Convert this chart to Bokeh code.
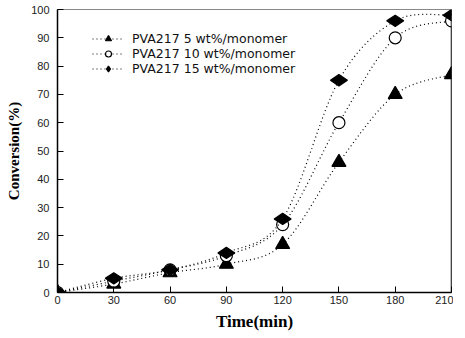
import numpy as np
from bokeh.plotting import figure
from bokeh.models import Legend, LegendItem, Span, FixedTicker, Range1d
from bokeh.embed import file_html
from bokeh.resources import INLINE

time_min = [0, 30, 60, 90, 120, 150, 180, 210]
pva5 = [0, 3, 7, 10, 17, 46, 70, 77]
pva10 = [0, 4, 8, 13, 24, 60, 90, 96]
pva15 = [0, 5, 8, 14, 26, 75, 96, 98]
labels = ["PVA217 5 wt%/monomer", "PVA217 10 wt%/monomer", "PVA217 15 wt%/monomer"]
x_ticks = [0, 30, 60, 90, 120, 150, 180, 210]
y_ticks = [0, 10, 20, 30, 40, 50, 60, 70, 80, 90, 100]

p = figure(frame_width=394, frame_height=283, output_backend="svg", toolbar_location=None,
           x_range=Range1d(0, 210), y_range=Range1d(0, 100),
           min_border_left=57, min_border_right=2, min_border_top=9, min_border_bottom=30)
p.grid.visible = False
p.outline_line_color = "#888888"
p.background_fill_color = "white"
p.border_fill_color = "white"

for ax in (p.xaxis[0], p.yaxis[0]):
    ax.axis_line_color = "black"
    ax.axis_line_width = 1.5
    ax.major_tick_in = 6
    ax.major_tick_out = 0
    ax.minor_tick_line_color = None
    ax.major_label_text_font = "Liberation Sans"
    ax.major_label_text_font_size = "11px"
    ax.major_label_text_color = "#222222"
    ax.axis_label_text_font = "Liberation Serif"
    ax.axis_label_text_font_style = "bold"
    ax.axis_label_text_color = "black"

p.xaxis.ticker = FixedTicker(ticks=x_ticks)
p.yaxis.ticker = FixedTicker(ticks=y_ticks)
p.xaxis.axis_label = "Time(min)"
p.yaxis.axis_label = "Conversion(%)"
p.xaxis.axis_label_text_font_size = "17px"
p.yaxis.axis_label_text_font_size = "15px"
p.xaxis.major_label_standoff = 3
p.yaxis.major_label_standoff = 8
p.xaxis.axis_label_standoff = 5
p.yaxis.axis_label_standoff = 6

p.add_layout(Span(location=210, dimension="height", line_color="black", line_width=1.5))


def smooth(xs, ys):
    x = np.array(xs, float)
    y = np.array(ys, float)
    xp = np.concatenate([[x[0]], x, [x[-1]]])
    yp = np.concatenate([[y[0]], y, [y[-1]]])
    x0, y0, x1, y1, cx0, cy0, cx1, cy1 = [], [], [], [], [], [], [], []
    for i in range(len(x) - 1):
        j = i + 1
        x0.append(x[i]); y0.append(y[i]); x1.append(x[i + 1]); y1.append(y[i + 1])
        cx0.append(x[i] + (xp[j + 1] - xp[j - 1]) / 6)
        cy0.append(y[i] + (yp[j + 1] - yp[j - 1]) / 6)
        cx1.append(x[i + 1] - (xp[j + 2] - xp[j]) / 6)
        cy1.append(y[i + 1] - (yp[j + 2] - yp[j]) / 6)
    return dict(x0=x0, y0=y0, x1=x1, y1=y1, cx0=cx0, cy0=cy0, cx1=cx1, cy1=cy1)


series = [(pva5, "triangle", 14, "black", 0.0),
          (pva10, "circle", 12, "white", 0.0),
          (pva15, "diamond", 17, "black", np.pi / 2)]
leg_items = []
for (ys, marker, size, fill, ang), lab in zip(series, labels):
    p.bezier(line_color="black", line_width=1.2, line_dash="1 3", **smooth(time_min, ys))
    sc = p.scatter(time_min, ys, marker=marker, size=size, fill_color=fill,
                   line_color="black", line_width=1.2, angle=ang)
    lr = p.line([0, 0], [0, 0], line_color="black", line_width=1.2, line_dash="1 3")
    leg_items.append(LegendItem(label=lab, renderers=[lr, sc]))

legend = Legend(items=leg_items, location=(35, 216), orientation="vertical",
                label_text_font="DejaVu Sans", label_text_font_size="12.5px",
                label_text_color="#111111", glyph_width=32, glyph_height=15,
                label_height=15, spacing=0, padding=0, margin=0, label_standoff=8,
                border_line_color=None, background_fill_alpha=0)
p.add_layout(legend)

open("out.html", "w").write(file_html(p, INLINE))
